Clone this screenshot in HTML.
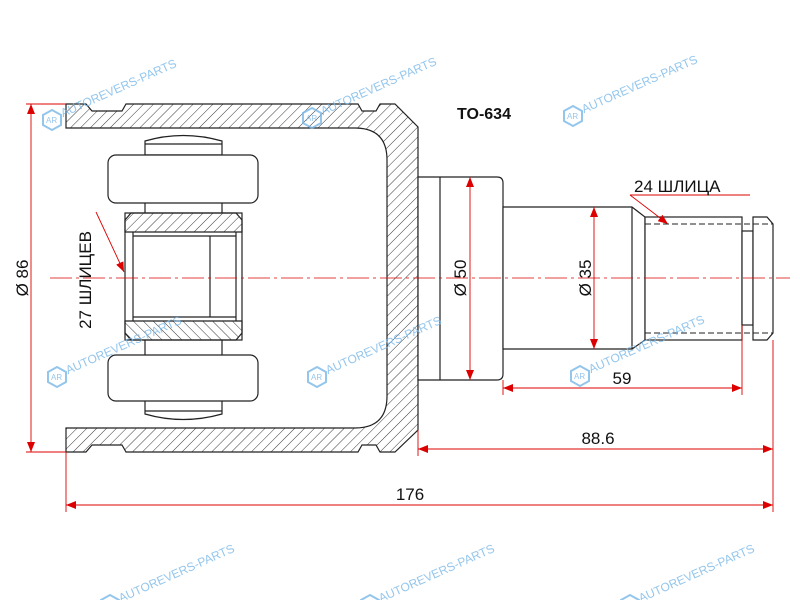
<!DOCTYPE html>
<html><head><meta charset="utf-8"><style>
html,body{margin:0;padding:0;background:#fff;}
svg{display:block;font-family:"Liberation Sans",sans-serif;}
</style></head><body>
<svg width="800" height="600" viewBox="0 0 800 600" xmlns="http://www.w3.org/2000/svg">
<defs>
<pattern id="h" patternUnits="userSpaceOnUse" width="7" height="7" patternTransform="rotate(45)">
<line x1="0" y1="0" x2="0" y2="7" stroke="#222" stroke-width="0.9"/>
</pattern>
<pattern id="h2" patternUnits="userSpaceOnUse" width="7" height="7" patternTransform="rotate(-45)">
<line x1="0" y1="0" x2="0" y2="7" stroke="#222" stroke-width="0.9"/>
</pattern>
<marker id="a" markerWidth="10" markerHeight="8" refX="10" refY="4" orient="auto-start-reverse" markerUnits="userSpaceOnUse">
<path d="M0,0 L10,4 L0,8 z" fill="#d00"/>
</marker>
<g id="wm">
<polygon points="0,-10 9,-5 9,5 0,10 -9,5 -9,-5" fill="none" stroke="#7ab8e8" stroke-width="2"/>
<text x="-6" y="3" font-size="8" fill="#7ab8e8">AR</text>
<text x="11" y="2" font-size="12" fill="#7ab8e8" transform="rotate(-24)">AUTOREVERS-PARTS</text>
</g>
</defs>

<path fill="url(#h)" stroke="#222" stroke-width="1.2" d="M66,104 L86,104 L92,111 L122,111 L126,104 L358,104 L362,111 L376,111 L380,104 L395,104 L418,127 L418,430 L395,452 L380,452 L376,445 L362,445 L358,452 L126,452 L122,445 L92,445 L86,452 L66,452 L66,428 L355,428 Q387,428 387,396 L387,160 Q387,128 355,128 L66,128 Z"/>

<g fill="#fff" stroke="#222" stroke-width="1.2">
<path d="M418,177 L497,177 Q503,177 503,183 L503,374 Q503,380 497,380 L418,380 Z"/>
<line x1="440" y1="177" x2="440" y2="380"/>
<path d="M503,207 L632,207 L645,217 L645,340 L632,349 L503,349 Z"/>
<rect x="645" y="217" width="97" height="123"/>
<line x1="632" y1="207" x2="632" y2="349"/>
<rect x="742" y="231" width="11" height="94"/>
<path d="M753,217 L767,217 L773,224 L773,333 L767,340 L753,340 Z"/>
</g>
<g stroke="#222" stroke-width="1" stroke-dasharray="6,3">
<line x1="645" y1="224" x2="773" y2="224"/>
<line x1="645" y1="333" x2="773" y2="333"/>
</g>

<g fill="#fff" stroke="#222" stroke-width="1.2">
<path d="M145,155 L145,141 Q183,130 222,141 L222,155 Z"/>
<line x1="145" y1="144" x2="222" y2="144"/>
<path d="M145,400 L145,414 Q183,425 222,414 L222,400 Z"/>
<line x1="145" y1="411" x2="222" y2="411"/>
<line x1="145" y1="203" x2="145" y2="213"/><line x1="222" y1="203" x2="222" y2="213"/>
<line x1="145" y1="340" x2="145" y2="355"/><line x1="222" y1="340" x2="222" y2="355"/>
<rect x="108" y="155" width="150" height="48" rx="8"/>
<rect x="108" y="355" width="150" height="46" rx="8"/>
<rect x="125" y="213" width="117" height="127"/>
<path d="M125,220 L131,213 L236,213 L242,220 L242,232 L125,232 Z" fill="url(#h)"/>
<path d="M125,321 L242,321 L242,333 L236,340 L131,340 L125,333 Z" fill="url(#h2)"/>
<line x1="133" y1="232" x2="133" y2="321"/>
<line x1="236" y1="232" x2="236" y2="321"/>
<line x1="210" y1="236" x2="210" y2="317"/>
<line x1="133" y1="236" x2="236" y2="236"/>
<line x1="133" y1="317" x2="236" y2="317"/>
</g>

<line x1="50" y1="278" x2="790" y2="278" stroke="#d00" stroke-width="0.8" stroke-dasharray="22,4,3,4"/>

<g stroke="#d00" stroke-width="0.9" fill="none">
<line x1="26" y1="104" x2="66" y2="104"/><line x1="26" y1="452" x2="66" y2="452"/>
<line x1="31" y1="104" x2="31" y2="452" marker-start="url(#a)" marker-end="url(#a)"/>
<line x1="470" y1="177" x2="470" y2="380" marker-start="url(#a)" marker-end="url(#a)"/>
<line x1="594" y1="207" x2="594" y2="349" marker-start="url(#a)" marker-end="url(#a)"/>
<line x1="66" y1="452" x2="66" y2="512"/>
<line x1="773" y1="340" x2="773" y2="512"/>
<line x1="418" y1="430" x2="418" y2="456"/>
<line x1="503" y1="380" x2="503" y2="395"/>
<line x1="742" y1="325" x2="742" y2="395"/>
<line x1="503" y1="388" x2="742" y2="388" marker-start="url(#a)" marker-end="url(#a)"/>
<line x1="418" y1="449" x2="773" y2="449" marker-start="url(#a)" marker-end="url(#a)"/>
<line x1="66" y1="505" x2="773" y2="505" marker-start="url(#a)" marker-end="url(#a)"/>
<line x1="96" y1="212" x2="124" y2="272" marker-end="url(#a)"/>
<line x1="630" y1="195" x2="750" y2="195"/>
<line x1="630" y1="195" x2="668" y2="224" marker-end="url(#a)"/>
</g>
<g fill="#111" font-size="17">
<text transform="translate(28,278) rotate(-90)" text-anchor="middle">Ø 86</text>
<text transform="translate(466,278) rotate(-90)" text-anchor="middle">Ø 50</text>
<text transform="translate(591,278) rotate(-90)" text-anchor="middle">Ø 35</text>
<text transform="translate(91,280) rotate(-90)" text-anchor="middle">27 ШЛИЦЕВ</text>
<text x="634" y="192">24 ШЛИЦА</text>
<text x="622" y="384" text-anchor="middle">59</text>
<text x="598" y="444" text-anchor="middle">88.6</text>
<text x="410" y="500" text-anchor="middle">176</text>
<text x="484" y="119" text-anchor="middle" font-weight="bold" font-size="16">TO-634</text>
</g>

<g opacity="0.8">
<use href="#wm" x="52" y="120"/>
<use href="#wm" x="312" y="118"/>
<use href="#wm" x="573" y="116"/>
<use href="#wm" x="57" y="377"/>
<use href="#wm" x="317" y="377"/>
<use href="#wm" x="580" y="376"/>
<use href="#wm" x="110" y="605"/>
<use href="#wm" x="370" y="605"/>
<use href="#wm" x="630" y="605"/>
</g>
</svg>
</body></html>
